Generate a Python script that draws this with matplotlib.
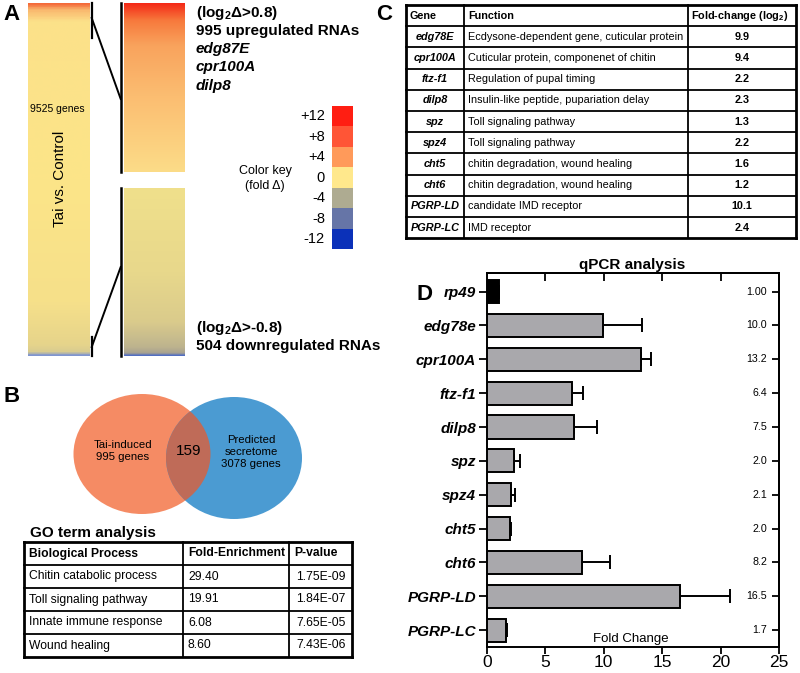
import matplotlib
matplotlib.use('Agg')
import matplotlib.pyplot as plt
import numpy as np
from matplotlib.colors import LinearSegmentedColormap
from matplotlib.patches import Ellipse, Rectangle

plt.rcParams['font.family'] = ['Liberation Sans', 'DejaVu Sans']
plt.rcParams['mathtext.fontset'] = 'custom'
plt.rcParams['mathtext.rm'] = 'Liberation Sans'
plt.rcParams['mathtext.bf'] = 'Liberation Sans:bold'
plt.rcParams['mathtext.it'] = 'Liberation Sans:italic'

# ---- panel A data
total_genes = '9525 genes'
comparison = 'Tai vs. Control'
up_lines = ['(log$_\\mathbf{2}$\u0394>0.8)', '995 upregulated RNAs']
up_genes = ['edg87E', 'cpr100A', 'dilp8']
down_lines = ['(log$_\\mathbf{2}$\u0394>-0.8)', '504 downregulated RNAs']
key_labels = ['+12', '+8', '+4', '0', '-4', '-8', '-12']
key_colors = ['#FF1E12', '#FF5536', '#FF9A5A', '#FFE88C', '#AEAB91', '#6675A7', '#0B31B9']

# ---- panel B data
venn_left = 'Tai-induced\n995 genes'
venn_right = 'Predicted\nsecretome\n3078 genes'
venn_overlap = '159'
go_header = ['Biological Process', 'Fold-Enrichment', 'P-value']
go_terms = ['Chitin catabolic process', 'Toll signaling pathway',
            'Innate immune response', 'Wound healing']
go_fold = ['29.40', '19.91', '6.08', '8.60']
go_pval = ['1.75E-09', '1.84E-07', '7.65E-05', '7.43E-06']

# ---- panel C data
c_header = ['Gene', 'Function', 'Fold-change (log$_\\mathbf{2}$)']
c_genes = ['edg78E', 'cpr100A', 'ftz-f1', 'dilp8', 'spz', 'spz4',
           'cht5', 'cht6', 'PGRP-LD', 'PGRP-LC']
c_func = ['Ecdysone-dependent gene, cuticular protein',
          'Cuticular protein, componenet of chitin',
          'Regulation of pupal timing',
          'Insulin-like peptide, pupariation delay',
          'Toll signaling pathway', 'Toll signaling pathway',
          'chitin degradation, wound healing',
          'chitin degradation, wound healing',
          'candidate IMD receptor', 'IMD receptor']
c_fold = ['9.9', '9.4', '2.2', '2.3', '1.3', '2.2', '1.6', '1.2', '10.1', '2.4']

# ---- panel D data
genes = ['rp49', 'edg78e', 'cpr100A', 'ftz-f1', 'dilp8', 'spz', 'spz4',
         'cht5', 'cht6', 'PGRP-LD', 'PGRP-LC']
fold = [1.0, 9.97, 13.18, 7.32, 7.46, 2.28, 2.08, 1.94, 8.17, 16.5, 1.65]
fold_hi = [1.0, 13.24, 14.04, 8.26, 9.40, 2.85, 2.36, 2.02, 10.54, 20.8, 1.74]
fold_txt = ['1.00', '10.0', '13.2', '6.4', '7.5', '2.0', '2.1', '2.0', '8.2', '16.5', '1.7']


def gradient(ax, x0, x1, y0, y1, stops):
    cmap = LinearSegmentedColormap.from_list('g', stops)
    img = cmap(np.linspace(0, 1, 400))[:, None, :3]
    ax.imshow(img, extent=(x0, x1, y1, y0), aspect='auto', origin='upper',
              interpolation='bilinear', zorder=1)


def grid_table(ax, xs, ys, lw_out=2.0, lw_in=1.3):
    for i, x in enumerate(xs):
        lw = lw_out if i in (0, len(xs) - 1) else lw_in
        ax.plot([x, x], [ys[0], ys[-1]], color='black', lw=lw, zorder=3)
    for j, y in enumerate(ys):
        lw = lw_out if j in (0, len(ys) - 1) else lw_in
        ax.plot([xs[0], xs[-1]], [y, y], color='black', lw=lw, zorder=3)


fig = plt.figure(figsize=(8, 6.73), dpi=100)
ov = fig.add_axes([0, 0, 1, 1])
ov.set_xlim(0, 800)
ov.set_ylim(673, 0)
ov.axis('off')

# panel letters
for lab, (lx, ly) in zip('ABCD', [(12, 15), (12, 397), (384, 15), (425, 294)]):
    ov.text(lx, ly, lab, fontsize=16, fontweight='bold', ha='center', va='center')

# ---- A: heatmap bars
gradient(ov, 28, 90, 3, 356,
         [(0, '#F46A3A'), (0.015, '#F9B56C'), (0.05, '#FCE18A'), (0.5, '#FCE588'),
          (0.85, '#F6E08A'), (0.97, '#E6D48B'), (0.993, '#D8CB90'), (1, '#7F95D0')])
gradient(ov, 124, 185, 3, 172,
         [(0, '#F42A18'), (0.1, '#F7793C'), (0.25, '#F9A35D'), (0.55, '#FBBD71'),
          (1, '#FCDC88')])
gradient(ov, 124, 185, 188, 356,
         [(0, '#F0E08C'), (0.5, '#E8D88B'), (0.8, '#DACB8C'), (0.95, '#BDB38E'),
          (0.985, '#A8A290'), (1, '#4E6CC4')])
ov.plot([91.7, 91.7], [3, 38], color='black', lw=1.6)
ov.plot([91.7, 91.7], [337, 356], color='black', lw=1.6)
ov.plot([91.7, 120.7], [18, 99], color='black', lw=1.4)
ov.plot([91.7, 120.7], [347, 267], color='black', lw=1.4)
ov.plot([120.7, 120.7], [3, 172], color='black', lw=1.8)
ov.plot([120.7, 120.7], [188, 356], color='black', lw=1.8)
ov.text(57, 109, total_genes, fontsize=7.5, ha='center', va='center')
ov.text(60, 179, comparison, fontsize=11, rotation=90, ha='center', va='center')

for k, t in enumerate(up_lines):
    ov.text(196, 13 + 17.5 * k, t, fontsize=11, fontweight='bold', va='center')
for k, t in enumerate(up_genes):
    ov.text(196, 49 + 18.5 * k, t, fontsize=11, fontweight='bold', style='italic', va='center')
for k, t in enumerate(down_lines):
    ov.text(196, 328 + 18 * k, t, fontsize=11, fontweight='bold', va='center')

box_h = (249.3 - 106) / len(key_colors)
for k, (lab, col) in enumerate(zip(key_labels, key_colors)):
    yb = 106 + k * box_h
    ov.add_patch(Rectangle((331.7, yb), 21, box_h, facecolor=col, edgecolor='none', zorder=2))
    ov.text(325, yb + box_h / 2, lab, fontsize=10.5, ha='right', va='center')
ov.text(265, 171, 'Color key', fontsize=9, ha='center', va='center')
ov.text(265, 186, '(fold \u0394)', fontsize=9, ha='center', va='center')

# ---- B: venn
e1 = Ellipse((142, 454), 137, 120, facecolor='#F58B64', edgecolor='none', zorder=1)
e2 = Ellipse((234, 458), 136, 122, facecolor='#4B9BD2', edgecolor='none', zorder=1)
ov.add_patch(e1)
ov.add_patch(e2)
e3 = Ellipse((142, 454), 137, 120, facecolor='#BF6B58', edgecolor='none', zorder=2)
ov.add_patch(e3)
e3.set_clip_path(e2)
ov.text(123, 451, venn_left, fontsize=8.2, ha='center', va='center', linespacing=1.25, zorder=4)
ov.text(189, 451, venn_overlap, fontsize=11, ha='center', va='center', zorder=4)
ov.text(251, 452, venn_right, fontsize=8.2, ha='center', va='center', linespacing=1.25, zorder=4)

ov.text(30, 533, 'GO term analysis', fontsize=11, fontweight='bold', va='center')
bx = [24, 183, 289, 352]
by = [542, 565, 588, 611, 634, 657]
grid_table(ov, bx, by)
for i, h in enumerate(go_header):
    ov.text(bx[i] + 5, (by[0] + by[1]) / 2, h, fontsize=8.7, fontweight='bold', va='center')
for r in range(len(go_terms)):
    yc = (by[r + 1] + by[r + 2]) / 2
    ov.text(bx[0] + 5, yc, go_terms[r], fontsize=8.7, va='center')
    ov.text(bx[1] + 5, yc, go_fold[r], fontsize=8.7, va='center')
    ov.text(bx[2] + 7, yc, go_pval[r], fontsize=8.7, va='center')

# ---- C: gene table
cx = [406, 464, 688, 796]
cy = list(5 + np.arange(len(c_genes) + 2) * 21.2)
grid_table(ov, cx, cy)
hy = (cy[0] + cy[1]) / 2
ov.text(cx[0] + 4, hy, c_header[0], fontsize=7.8, fontweight='bold', va='center')
ov.text(cx[1] + 4, hy, c_header[1], fontsize=7.8, fontweight='bold', va='center')
ov.text(cx[2] + 3, hy, c_header[2], fontsize=7.8, fontweight='bold', va='center')
for r in range(len(c_genes)):
    yc = (cy[r + 1] + cy[r + 2]) / 2
    ov.text((cx[0] + cx[1]) / 2, yc, c_genes[r], fontsize=7.8, fontweight='bold',
            style='italic', ha='center', va='center')
    ov.text(cx[1] + 4, yc, c_func[r], fontsize=7.8, va='center')
    ov.text((cx[2] + cx[3]) / 2, yc, c_fold[r], fontsize=7.8, fontweight='bold',
            ha='center', va='center')

# ---- D: qPCR bars
ax = fig.add_axes([487 / 800, 1 - 647 / 673, 292 / 800, 374 / 673])
ax.patch.set_alpha(0)
yy = np.arange(len(genes))
bar_cols = ['black'] + ['#A9A8AC'] * (len(genes) - 1)
ax.barh(yy, fold, height=0.68, color=bar_cols, edgecolor='black', linewidth=1.4, zorder=3)
err = np.array(fold_hi) - np.array(fold)
ax.errorbar(fold, yy, xerr=[np.zeros_like(err), err], fmt='none', ecolor='black',
            elinewidth=1.4, capsize=4.7, capthick=1.4, zorder=2)
ax.set_xlim(0, 25)
ax.set_ylim(10.5, -0.55)
ax.set_xticks(np.arange(0, 26, 5))
ax.set_yticks(yy)
ax.set_yticklabels(genes, fontsize=11, fontweight='bold', style='italic')
ax.tick_params(axis='x', labelsize=12.5, length=5, width=1.3, pad=1)
ax.tick_params(axis='y', length=6, width=1.3, pad=2)
for s in ax.spines.values():
    s.set_linewidth(1.4)
top = ax.secondary_xaxis('top')
top.set_xticks([5, 10, 15, 20])
top.set_xticklabels([])
top.tick_params(direction='in', length=6, width=1.3)
top.spines['top'].set_linewidth(1.4)
right = ax.secondary_yaxis('right')
right.set_yticks(yy)
right.set_yticklabels([])
right.tick_params(direction='in', length=5, width=1.3)
right.spines['right'].set_linewidth(1.4)
for k, t in enumerate(fold_txt):
    ax.text(0.959, yy[k], t, transform=ax.get_yaxis_transform(), fontsize=7.7,
            ha='right', va='center')
ov.text(632, 265, 'qPCR analysis', fontsize=11, fontweight='bold', ha='center', va='center')
ov.text(631, 639, 'Fold Change', fontsize=9.5, ha='center', va='center')

fig.savefig('out.png', dpi=100)
